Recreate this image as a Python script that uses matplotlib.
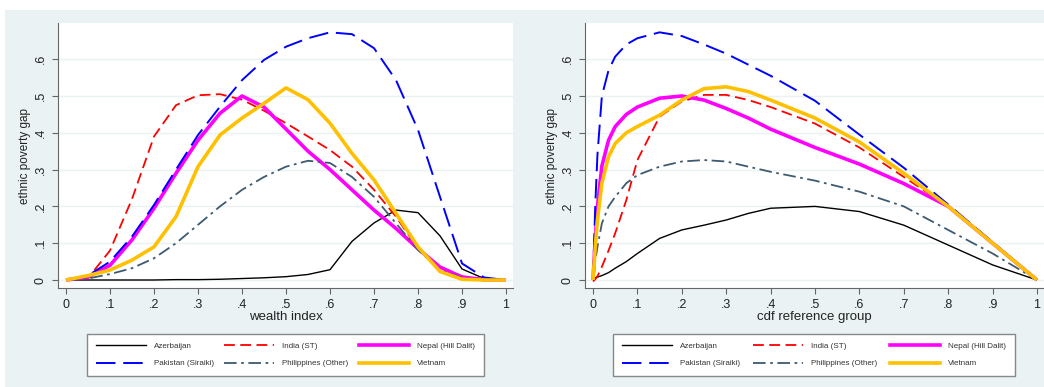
import matplotlib
matplotlib.use('Agg')
import matplotlib.pyplot as plt
from matplotlib.patches import Rectangle
from matplotlib.lines import Line2D

plt.rcParams['font.family'] = ['Liberation Sans', 'DejaVu Sans']

# Left panel: gap by wealth index
wealth_x = [0, 0.05, 0.1, 0.15, 0.2, 0.25, 0.3, 0.35, 0.4, 0.45, 0.5,
            0.55, 0.6, 0.65, 0.7, 0.75, 0.8, 0.85, 0.9, 0.95, 1.0]
w_azerbaijan = [0, 0, 0, 0, 0, 0.001, 0.001, 0.002, 0.004, 0.006, 0.009,
                0.015, 0.028, 0.105, 0.155, 0.19, 0.183, 0.12, 0.03, 0.004, 0]
w_india = [0, 0.005, 0.08, 0.22, 0.39, 0.475, 0.502, 0.505, 0.49, 0.46, 0.426,
           0.39, 0.353, 0.308, 0.245, 0.172, 0.085, 0.036, 0.01, 0.002, 0]
w_nepal = [0, 0.008, 0.04, 0.109, 0.195, 0.29, 0.38, 0.453, 0.50, 0.47, 0.41,
           0.35, 0.30, 0.245, 0.19, 0.14, 0.085, 0.035, 0.008, 0.001, 0]
w_pakistan = [0, 0.012, 0.05, 0.118, 0.204, 0.30, 0.394, 0.471, 0.543, 0.598, 0.634,
              0.657, 0.673, 0.668, 0.63, 0.543, 0.408, 0.226, 0.045, 0.007, 0]
w_philippines = [0, 0.004, 0.016, 0.032, 0.059, 0.10, 0.15, 0.20, 0.245, 0.28, 0.308,
                 0.324, 0.318, 0.28, 0.226, 0.154, 0.082, 0.027, 0.006, 0.001, 0]
w_vietnam = [0, 0.012, 0.027, 0.054, 0.09, 0.172, 0.308, 0.394, 0.44, 0.48, 0.522,
             0.49, 0.426, 0.344, 0.272, 0.181, 0.09, 0.023, 0.002, 0, 0]

# Right panel: gap by cdf of reference group
cdf_x = [0, 0.005, 0.01, 0.02, 0.035, 0.05, 0.075, 0.1, 0.15, 0.2,
         0.25, 0.3, 0.35, 0.4, 0.5, 0.6, 0.7, 0.8, 0.9, 1.0]
c_azerbaijan = [0.003, 0.006, 0.008, 0.012, 0.02, 0.032, 0.05, 0.072, 0.113, 0.136,
                0.149, 0.163, 0.181, 0.195, 0.2, 0.186, 0.149, 0.095, 0.041, 0]
c_india = [-0.004, 0.002, 0.01, 0.036, 0.08, 0.127, 0.217, 0.326, 0.444, 0.485,
           0.503, 0.503, 0.489, 0.47, 0.425, 0.36, 0.28, 0.2, 0.1, 0]
c_nepal = [0, 0.11, 0.2, 0.31, 0.38, 0.417, 0.45, 0.47, 0.494, 0.50,
           0.489, 0.466, 0.44, 0.41, 0.36, 0.315, 0.262, 0.2, 0.1, 0]
c_pakistan = [0, 0.2, 0.34, 0.50, 0.57, 0.607, 0.64, 0.657, 0.673, 0.663,
              0.64, 0.615, 0.585, 0.555, 0.487, 0.395, 0.305, 0.205, 0.103, 0]
c_philippines = [0, 0.05, 0.09, 0.154, 0.2, 0.226, 0.263, 0.285, 0.308, 0.322,
                 0.326, 0.322, 0.308, 0.294, 0.27, 0.24, 0.2, 0.136, 0.072, 0]
c_vietnam = [0, 0.09, 0.163, 0.263, 0.335, 0.371, 0.40, 0.417, 0.448, 0.489,
             0.52, 0.525, 0.512, 0.489, 0.44, 0.375, 0.29, 0.2, 0.1, 0]

names = ['Azerbaijan', 'India (ST)', 'Nepal (Hill Dalit)',
         'Pakistan (Siraiki)', 'Philippines (Other)', 'Vietnam']
yticks = [0, 0.1, 0.2, 0.3, 0.4, 0.5, 0.6]
ytick_labels = ['0', '.1', '.2', '.3', '.4', '.5', '.6']
xticks = [0, 0.1, 0.2, 0.3, 0.4, 0.5, 0.6, 0.7, 0.8, 0.9, 1.0]
xtick_labels = ['0', '.1', '.2', '.3', '.4', '.5', '.6', '.7', '.8', '.9', '1']

BG = '#eaf2f3'
styles = [
    dict(color='black', lw=1.0, ls='-'),
    dict(color='#ff0000', lw=1.3, ls=(0, (6, 3))),
    dict(color='#ff00ff', lw=2.6, ls='-'),
    dict(color='#0000ff', lw=1.4, ls=(0, (10, 4))),
    dict(color='#3e5a70', lw=1.3, ls=(0, (7, 2.5, 1.5, 2.5))),
    dict(color='#ffc000', lw=2.6, ls='-'),
]

W, H = 1044, 387
fig = plt.figure(figsize=(W / 100, H / 100), dpi=100)
fig.patch.set_facecolor(BG)
fig.patches.append(Rectangle((0, 1 - 10 / H), 1, 10 / H, transform=fig.transFigure,
                             facecolor='white', edgecolor='none'))
fig.patches.append(Rectangle((0, 0), 5 / W, 1, transform=fig.transFigure,
                             facecolor='white', edgecolor='none'))


def panel(left_px, right_px, x0_px, x1_px, xs, series, xlabel):
    ax = fig.add_axes([left_px / W, 1 - 288 / H, (right_px - left_px) / W, 265 / H])
    ax.set_facecolor('white')
    for ys, st in zip(series, styles):
        ax.plot(xs, ys, color=st['color'], lw=st['lw'], ls=st['ls'],
                solid_capstyle='butt', dash_capstyle='butt')
    scale = x1_px - x0_px
    ax.set_xlim(-(x0_px - left_px) / scale, 1 + (right_px - x1_px) / scale)
    ax.set_ylim((280 - 288) / 368, (280 - 23) / 368)
    ax.set_xticks(xticks)
    ax.set_xticklabels(xtick_labels, fontsize=9)
    ax.set_yticks(yticks)
    ax.set_yticklabels(ytick_labels, fontsize=9, rotation=90, va='center')
    ax.grid(axis='y', color=BG, lw=1.0)
    ax.set_axisbelow(True)
    for s in ['top', 'right']:
        ax.spines[s].set_visible(False)
    for s in ['left', 'bottom']:
        ax.spines[s].set_color('#666666')
        ax.spines[s].set_linewidth(0.8)
    ax.tick_params(direction='out', length=4, width=0.8, color='#666666',
                   labelcolor='#222222', pad=4)
    ax.set_xlabel(xlabel, fontsize=9.5, labelpad=0, color='#222222')
    ax.set_ylabel('ethnic poverty gap', fontsize=8.5, labelpad=3, color='#222222')
    return ax


panel(58, 513, 66, 506, wealth_x,
      [w_azerbaijan, w_india, w_nepal, w_pakistan, w_philippines, w_vietnam],
      'wealth index')
panel(585, 1044, 593, 1037, cdf_x,
      [c_azerbaijan, c_india, c_nepal, c_pakistan, c_philippines, c_vietnam],
      'cdf reference group')

# legend handles, filled column-wise so rows read across like the original
handles = [Line2D([], [], color=st['color'], lw=st['lw'], ls=st['ls']) for st in styles]
order = [0, 3, 1, 4, 2, 5]
for x0, x1 in [(83, 488), (609, 1019)]:
    leg = fig.legend([handles[i] for i in order], [names[i] for i in order],
                     ncol=3, mode='expand', loc='center',
                     bbox_to_anchor=(x0 / W, 1 - 377 / H, (x1 - x0) / W, 44 / H),
                     bbox_transform=fig.transFigure, fontsize=5.8,
                     handlelength=6.2, handletextpad=1.0, borderpad=1.1,
                     labelspacing=1.2, fancybox=False, framealpha=1)
    leg.get_frame().set_edgecolor('#888888')
    leg.get_frame().set_linewidth(1.0)
    for t in leg.get_texts():
        t.set_color('#333333')

fig.savefig('out.png', dpi=100, facecolor=fig.get_facecolor())
